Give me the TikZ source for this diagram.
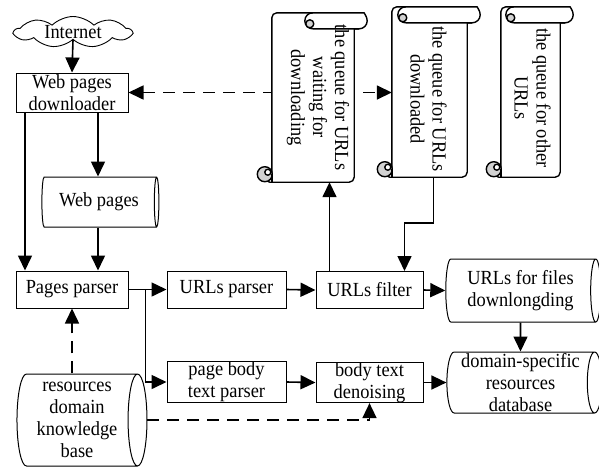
\documentclass[tikz,border=0pt]{standalone}
\usepackage{fontspec}
\setmainfont{Liberation Serif}[FakeStretch=0.92]
\usepackage{graphicx}
\usetikzlibrary{arrows.meta,shapes.geometric,shapes.symbols,calc}

% Vertical scroll outline drawn around an (invisible) body node.
% #1 = node name, #2 = horizontal offset of the top curl from the left edge
\newcommand\scrollshape[2]{%
  \draw[scrollline, fill=white, rounded corners=5pt]
    ($(#1.south west)+(0,-8)$) -- (#1.north west) -- ($(#1.north east)+(5,0)$)
    [sharp corners] arc[start angle=90, end angle=-90, radius=8pt]
    -- ($(#1.north east)+(0,16)$) [rounded corners=5pt] -- (#1.south east)
    -- ($(#1.south west)+(-7,0)$) [sharp corners] -- cycle;
  \draw[scrollline] ($(#1.north west)+(#2+4,0)$)
    arc[start angle=90, end angle=270, radius=8pt] -- ($(#1.north east)+(5,16)$);
  \draw[scrollline, fill=gray!35] ($(#1.north west)+(#2+1,11)$) circle[radius=4pt];
  \draw[scrollline, fill=gray!35] ($(#1.south west)+(-7,-8)$) circle[radius=7.5pt];
  \draw[scrollline, fill=white] ($(#1.south west)+(-4,-10)$) circle[radius=3pt];
  \draw[scrollline] ($(#1.south west)+(0,-8)$) -- (#1.south west);
}

\begin{document}
\begin{tikzpicture}[x=1pt, y=-1pt,
  font=\fontsize{20}{22}\selectfont,
  box/.style={draw, line width=1pt, inner sep=0pt, align=center, fill=white},
  store/.style={cylinder, draw, line width=1pt, inner sep=0pt, align=center,
    shape aspect=0.25, fill=white},
  cloudbox/.style={cloud, draw, line width=0.9pt, cloud puffs=9, cloud puff arc=90,
    aspect=4, inner sep=0pt, minimum width=117pt, minimum height=31pt, fill=white},
  scrollbody/.style={rectangle, draw=none, inner sep=0pt},
  scrolltext/.style={rotate=-90, align=center, inner sep=0pt},
  scrollline/.style={line width=1.4pt, line join=round},
  arr/.style={line width=1.6pt, -{Triangle[length=15pt, width=14pt]}},
  darr/.style={arr, dash pattern=on 12pt off 8pt},
]
\useasboundingbox (0,0) rectangle (599,467);

% queue scrolls (bodies only, outlines drawn later)
\node[scrollbody, minimum width=82pt, minimum height=169pt] (q1) at (313,97.5) {};
\node[scrollbody, minimum width=75pt, minimum height=170pt] (q2) at (429.5,92) {};
\node[scrollbody, minimum width=59pt, minimum height=170pt] (q3) at (530.5,92) {};

% process boxes and stores (a cylinder's minimum height is its length)
\node[cloudbox] (inet) at (73,32) {Internet};
\node[box, minimum width=112pt, minimum height=39pt] (dl) at (72,92.5) {Web pages\\downloader};
\node[store, minimum height=117pt, minimum width=50pt] (wp) at (99,202) {Web pages};
\node[box, minimum width=112pt, minimum height=37pt] (pp) at (72,289.5) {Pages parser};
\node[box, minimum width=119pt, minimum height=37pt] (up) at (226.5,289.5) {URLs parser};
\node[box, minimum width=119pt, minimum height=38pt] (pb) at (226.5,382) {page body\\text parser};
\node[box, minimum width=107pt, minimum height=37pt] (uf) at (369.5,290) {URLs filter};
\node[box, minimum width=107pt, minimum height=39pt] (bd) at (369.5,382.5) {body text\\denoising};
\node[store, minimum height=155pt, minimum width=63pt] (uff) at (520.5,290.5) {URLs for files\\downlongding};
\node[store, minimum height=155pt, minimum width=61pt] (ds) at (520.5,382.5) {domain-specific\\resources\\database};
\node[store, minimum height=130pt, minimum width=92pt] (kb) at (77,420) {resources\\domain\\knowledge\\base};

% dashed link between downloader and the queues (runs behind the first scroll)
\draw[darr, {Triangle[length=15pt, width=14pt]}-{Triangle[length=15pt, width=14pt]}]
  (dl.east) -- (q2.west |- dl.east);

% scroll outlines and their texts
\scrollshape{q1}{37}
\scrollshape{q2}{10}
\scrollshape{q3}{9}
\node[scrolltext] (q1t) at ($(q1.center)+(5,0)$) {the queue for URLs\\waiting for\\downloading};
\node[scrolltext] (q2t) at ($(q2.center)+(-1,7)$) {the queue for URLs\\downloaded};
\node[scrolltext] (q3t) at ($(q3.center)+(2,6)$) {the queue for other\\URLs};

% connectors
\draw[arr] (inet.south) -- (dl.north);
\draw[arr] ([xshift=-47pt]dl.south) -- ([xshift=-47pt]pp.north);
\draw[arr] ([xshift=26pt]dl.south) -- ([xshift=26pt]dl.south |- wp.north);
\draw[arr] ([xshift=26pt]pp.north |- wp.south) -- ([xshift=26pt]pp.north);
\draw[arr] (pp.east) -- (up.west);
\coordinate (br) at ([xshift=17pt]pp.east);
\draw[arr] (br) |- (pb.west);
\draw[arr] (up.east) -- (uf.west);
\draw[arr] (pb.east) -- (bd.west);
\draw[arr] ([xshift=-40pt]uf.north) -- ([xshift=-40pt]uf.north |- q1.south);
\draw[arr] ([xshift=4pt]q2.south) -- ++(0,46) -| ([xshift=35pt]uf.north);
\draw[arr] (uf.east) -- (uff.west);
\draw[arr] (bd.east) -- (ds.west);
\draw[arr] (uff.south) -- (ds.north);
\draw[darr] (pp.south |- kb.north) -- (pp.south);
\draw[darr] (kb.east) -| (bd.south);
\end{tikzpicture}
\end{document}
